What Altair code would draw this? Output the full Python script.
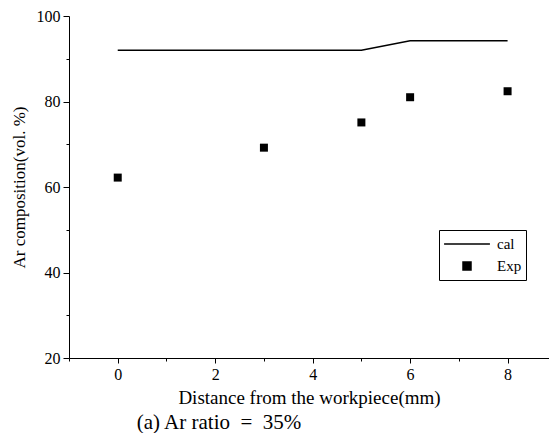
import altair as alt
import pandas as pd

cal_x = [0, 3, 5, 6, 8]
cal_y = [92.0, 92.0, 92.0, 94.2, 94.2]
exp_x = [0, 3, 5, 6, 8]
exp_y = [62.2, 69.2, 75.1, 81.0, 82.4]

cal = pd.DataFrame({"x": cal_x, "y": cal_y, "series": "cal"})
exp = pd.DataFrame({"x": exp_x, "y": exp_y, "series": "Exp"})

FONT = "Liberation Serif"

xs = alt.Scale(domain=[-1, 8.85], nice=False, zero=False)
ys = alt.Scale(domain=[20, 100], nice=False, zero=False)
shape_scale = alt.Scale(domain=["cal", "Exp"], range=["stroke", "square"])
color_scale = alt.Scale(domain=["cal", "Exp"], range=["black", "black"])
size_scale = alt.Scale(domain=["cal", "Exp"], range=[2100, 64])

xaxis = alt.Axis(
    title="Distance from the workpiece(mm)",
    values=[-1, 0, 1, 2, 3, 4, 5, 6, 7, 8],
    labelExpr="datum.value % 2 == 0 ? datum.label : ''",
    tickSize=alt.ExprRef("datum.value % 2 == 0 ? 5 : 3"),
    grid=False, domainColor="black", tickColor="black",
    labelColor="black", titleColor="black",
    labelFont=FONT, titleFont=FONT, labelFontSize=16, titleFontSize=19,
    titleFontWeight="normal", titlePadding=6, labelPadding=3,
)
yaxis = alt.Axis(
    title="Ar composition(vol. %)",
    values=[20, 30, 40, 50, 60, 70, 80, 90, 100],
    labelExpr="datum.value % 20 == 0 ? datum.label : ''",
    tickSize=alt.ExprRef("datum.value % 20 == 0 ? 6 : 3"),
    grid=False, domainColor="black", tickColor="black",
    labelColor="black", titleColor="black",
    labelFont=FONT, titleFont=FONT, labelFontSize=16, titleFontSize=17,
    titleFontWeight="normal", titlePadding=8, labelPadding=3,
)

legend = alt.Legend(
    title=None, orient="none", legendX=370, legendY=214,
    strokeColor="black", fillColor="white", padding=4,
    labelFont=FONT, labelFontSize=15, labelColor="black",
    symbolStrokeWidth=1.5, rowPadding=2, labelOffset=6, clipHeight=20,
)

line = alt.Chart(cal).mark_line(strokeWidth=1.5).encode(
    x=alt.X("x:Q", scale=xs, axis=xaxis),
    y=alt.Y("y:Q", scale=ys, axis=yaxis),
    shape=alt.Shape("series:N", scale=shape_scale, legend=legend),
    color=alt.Color("series:N", scale=color_scale, legend=legend),
)

pts = alt.Chart(exp).mark_point(shape="square", filled=True, opacity=1).encode(
    x=alt.X("x:Q", scale=xs),
    y=alt.Y("y:Q", scale=ys),
    shape=alt.Shape("series:N", scale=shape_scale, legend=legend),
    color=alt.Color("series:N", scale=color_scale, legend=legend),
    size=alt.Size("series:N", scale=size_scale, legend=legend),
)

chart = alt.layer(line, pts).properties(
    width=480, height=342,
    padding={"left": 2, "top": 0, "right": 0, "bottom": 0},
    title=alt.TitleParams("(a) Ar ratio\u00a0\u00a0=\u00a0\u00a035%", orient="bottom", font=FONT,
                          fontSize=21, fontWeight="normal", color="black", offset=5,
                          anchor="middle", dx=-90),
).configure_view(stroke=None)

chart.save("out.html", embed_options={"renderer": "svg", "actions": False})
